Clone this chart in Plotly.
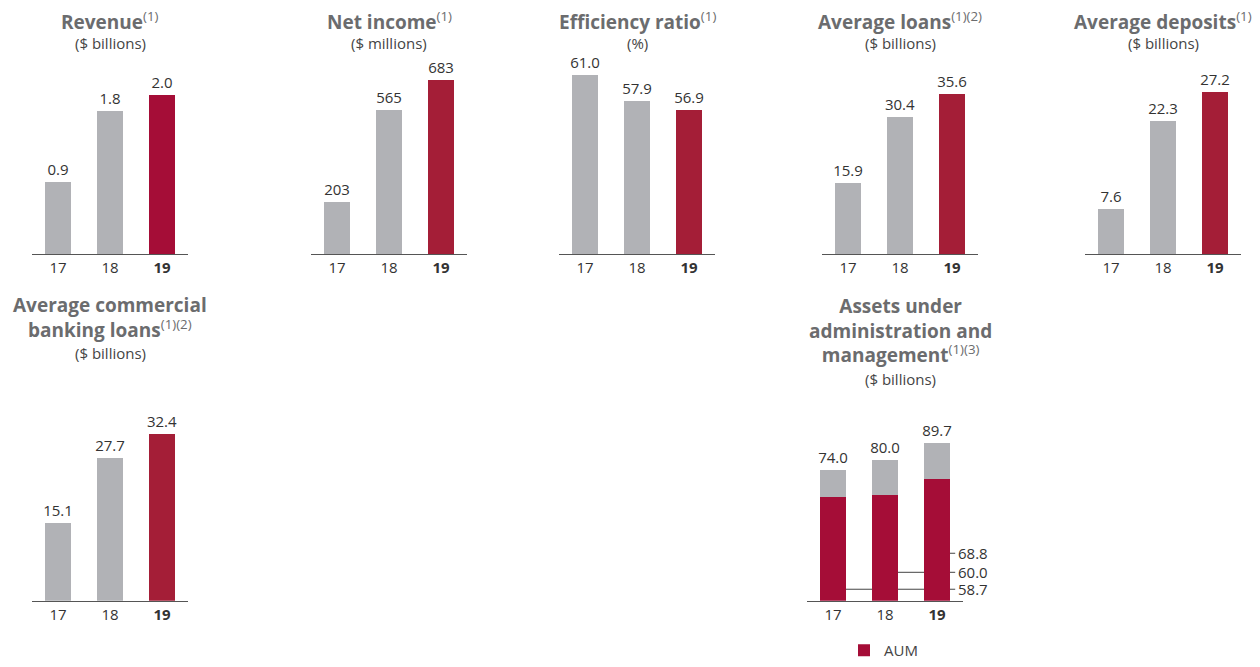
import plotly.graph_objects as go

W, H = 1260, 667

years = ["17", "18", "19"]
tick_labels = ["17", "18", "<b>19</b>"]

revenue = [0.9, 1.8, 2.0]
net_income = [203, 565, 683]
efficiency = [61.0, 57.9, 56.9]
avg_loans = [15.9, 30.4, 35.6]
avg_deposits = [7.6, 22.3, 27.2]
comm_loans = [15.1, 27.7, 32.4]
aua_total = [74.0, 80.0, 89.7]
aum = [58.7, 60.0, 68.8]

GRAY = "#b1b2b6"
RED = "#a50d37"
RED2 = "#a41e37"
TXT = "#333333"
TITLE = "#6b6c6e"
FONT = "Open Sans"

def px_x(p):
    return p / W

def px_y(p):
    return 1 - p / H

panels = [
    dict(vals=revenue, fmt="{:.1f}", red=RED, x=(32, 188), y=(60, 254), yr=(0, 2.437)),
    dict(vals=net_income, fmt="{:d}", red=RED2, x=(311, 467), y=(60, 254), yr=(0, 760.8)),
    dict(vals=efficiency, fmt="{:.1f}", red=RED2, x=(559, 715), y=(60, 254), yr=(40, 62.74)),
    dict(vals=avg_loans, fmt="{:.1f}", red=RED2, x=(822, 978), y=(60, 254), yr=(0, 43.2)),
    dict(vals=avg_deposits, fmt="{:.1f}", red=RED2, x=(1085, 1241), y=(60, 254), yr=(0, 32.55)),
    dict(vals=comm_loans, fmt="{:.1f}", red=RED2, x=(32, 188), y=(400, 600.7), yr=(0, 39.0)),
    dict(vals=None, fmt="{:.1f}", red=RED, x=(807, 963), y=(400, 600.7), yr=(0, 113.8)),
]

fig = go.Figure()
layout = {}

for i, p in enumerate(panels, start=1):
    xa = "x" if i == 1 else f"x{i}"
    ya = "y" if i == 1 else f"y{i}"
    if p["vals"] is not None:
        base = p["yr"][0]
        fig.add_trace(go.Bar(
            x=years, y=[v - base for v in p["vals"]], base=base,
            marker=dict(color=[GRAY, GRAY, p["red"]], line=dict(width=0)),
            text=[p["fmt"].format(v) for v in p["vals"]],
            textposition="outside", cliponaxis=False, constraintext="none",
            textfont=dict(family=FONT, size=15, color=TXT),
            xaxis=xa, yaxis=ya, showlegend=False, hoverinfo="skip",
        ))
    else:
        fig.add_trace(go.Bar(
            x=years, y=aum, name="AUM",
            marker=dict(color=RED, line=dict(width=0)),
            xaxis=xa, yaxis=ya, showlegend=True, hoverinfo="skip",
        ))
        fig.add_trace(go.Bar(
            x=years, y=[t - a for t, a in zip(aua_total, aum)], name="AUA",
            marker=dict(color=GRAY, line=dict(width=0)),
            text=[p["fmt"].format(v) for v in aua_total],
            textposition="outside", cliponaxis=False, constraintext="none",
            textfont=dict(family=FONT, size=15, color=TXT),
            xaxis=xa, yaxis=ya, showlegend=False, hoverinfo="skip",
        ))
    layout["xaxis" if i == 1 else f"xaxis{i}"] = dict(
        domain=[px_x(p["x"][0]), px_x(p["x"][1])],
        anchor=ya, range=[-0.5, 2.5], type="category",
        tickvals=years, ticktext=tick_labels,
        showline=True, linecolor="#555555", linewidth=1,
        showgrid=False, zeroline=False, ticks="",
        tickfont=dict(family=FONT, size=15, color=TXT),
        fixedrange=True,
    )
    layout["yaxis" if i == 1 else f"yaxis{i}"] = dict(
        domain=[px_y(p["y"][1]), px_y(p["y"][0])],
        anchor=xa, range=list(p["yr"]),
        visible=False, showgrid=False, zeroline=False, fixedrange=True,
    )

titles = [
    ("<b>Revenue</b><sup>(1)</sup>", "($ billions)", 110, 21, 43),
    ("<b>Net income</b><sup>(1)</sup>", "($ millions)", 389, 21, 43),
    ("<b>Efficiency ratio</b><sup>(1)</sup>", "(%)", 637, 21, 43),
    ("<b>Average loans</b><sup>(1)(2)</sup>", "($ billions)", 900, 21, 43),
    ("<b>Average deposits</b><sup>(1)</sup>", "($ billions)", 1163, 21, 43),
    ("<b>Average commercial</b><br><b>banking loans</b><sup>(1)(2)</sup>", "($ billions)", 110, 318, 353),
    ("<b>Assets under</b><br><b>administration and</b><br><b>management</b><sup>(1)(3)</sup>", "($ billions)", 900, 331, 379),
]
annotations = []
for t, sub, cx, ty, sy in titles:
    annotations.append(dict(
        text=t, x=px_x(cx), y=px_y(ty), xref="paper", yref="paper",
        xanchor="center", yanchor="middle", showarrow=False,
        font=dict(family=FONT, size=19, color=TITLE),
    ))
    annotations.append(dict(
        text=sub, x=px_x(cx), y=px_y(sy), xref="paper", yref="paper",
        xanchor="center", yanchor="middle", showarrow=False,
        font=dict(family=FONT, size=15, color="#444444"),
    ))

leader_y = [6.5, 16.1, 26.9]
shapes = []
for idx, ly in enumerate(leader_y):
    shapes.append(dict(
        type="line", xref="x7", yref="y7", layer="below",
        x0=idx, x1=2.35, y0=ly, y1=ly,
        line=dict(color="#444444", width=1),
    ))
    annotations.append(dict(
        text="{:.1f}".format(aum[idx]), xref="x7", yref="y7",
        x=2.37, y=ly, xanchor="left", yanchor="middle", showarrow=False,
        font=dict(family=FONT, size=15, color=TXT),
    ))

fig.update_layout(
    **layout,
    annotations=annotations,
    shapes=shapes,
    barmode="stack",
    bargap=0.5,
    width=W, height=H,
    margin=dict(l=0, r=0, t=0, b=0),
    paper_bgcolor="white", plot_bgcolor="white",
    showlegend=True,
    legend=dict(
        x=px_x(844), y=0, xanchor="left", yanchor="bottom",
        orientation="h", font=dict(family=FONT, size=15, color="#444444"),
        bgcolor="rgba(0,0,0,0)", itemwidth=30, tracegroupgap=0,
    ),
    font=dict(family=FONT),
)

fig.write_html(
    "out.html",
    config={"displayModeBar": False, "staticPlot": True},
    post_script="document.body.style.margin='0';",
)
